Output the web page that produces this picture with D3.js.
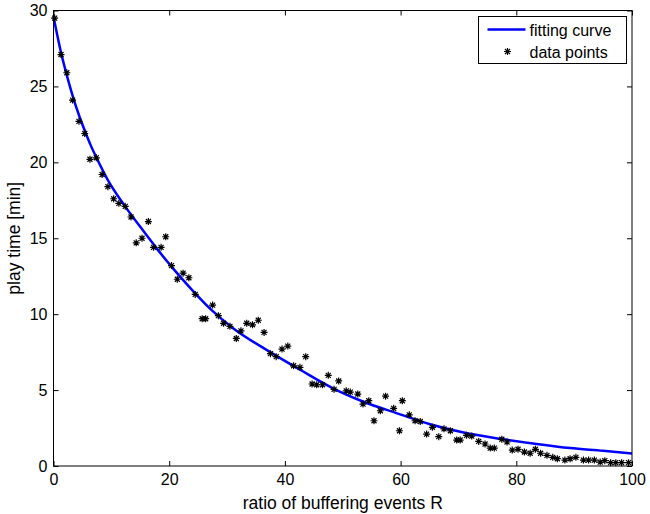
<!DOCTYPE html>
<html>
<head>
<meta charset="utf-8">
<script src="https://cdn.jsdelivr.net/npm/d3@7"></script>
<style>
  body { margin: 0; background: #fff; }
  svg text { font-family: "Liberation Sans", Arial, Helvetica, sans-serif; font-size: 16px; fill: #000; }
</style>
</head>
<body>
<svg id="chart" width="650" height="514"></svg>
<script>
// data points (R, play time)
const pointR = [0.2, 1.3, 2.3, 3.3, 4.4, 5.4, 6.3, 7.4, 8.4, 9.4, 10.4, 11.3, 12.4, 13.4, 14.3, 15.3, 16.4, 17.3, 18.6, 19.4,
  20.4, 21.4, 22.4, 23.4, 24.5, 25.7, 26.3, 27.5, 28.5, 29.4, 30.5, 31.6, 32.4, 33.4, 34.4, 35.4, 36.4, 37.5, 38.5, 39.5,
  40.5, 41.5, 42.6, 43.6, 44.7, 45.5, 46.5, 47.5, 48.5, 49.3, 50.6, 51.3, 52.6, 53.5, 54.5, 55.4, 56.5, 57.4, 58.8, 59.8,
  60.3, 61.5, 62.5, 63.4, 64.5, 65.5, 66.6, 67.5, 68.6, 69.7, 70.3, 71.4, 72.3, 73.5, 74.6, 75.5, 76.2, 77.5, 78.4, 79.3,
  80.3, 81.4, 82.4, 83.3, 84.2, 85.3, 86.3, 87.1, 88.4, 89.3, 90.3, 91.6, 92.5, 93.5, 94.5, 95.3, 96.3, 97.2, 98.2, 99.4];
const pointT = [29.5, 27.1, 25.9, 24.1, 22.7, 21.9, 20.2, 20.3, 19.2, 18.4, 17.6, 17.3, 17.1, 16.4, 14.7, 15.0, 16.1, 14.4, 14.4, 15.1,
  13.2, 12.3, 12.7, 12.4, 11.3, 9.7, 9.7, 10.6, 9.9, 9.4, 9.2, 8.4, 8.9, 9.4, 9.3, 9.6, 8.8, 7.4, 7.2, 7.7,
  7.9, 6.6, 6.5, 7.2, 5.4, 5.35, 5.35, 5.97, 5.05, 5.6, 4.95, 4.87, 4.74, 4.08, 4.3, 2.98, 3.64, 4.6, 3.8, 2.32,
  4.3, 3.37, 2.98, 2.93, 2.1, 2.55, 1.93, 2.45, 2.32, 1.71, 1.71, 2.02, 1.97, 1.62, 1.45, 1.18, 1.18, 1.76, 1.58, 1.05,
  1.1, 0.92, 0.84, 1.1, 0.84, 0.7, 0.57, 0.48, 0.39, 0.48, 0.57, 0.39, 0.39, 0.39, 0.26, 0.35, 0.22, 0.22, 0.22, 0.22];

// fitting curve
const curveR = [0, 1.2, 2.4, 3.3, 4.5, 5.6, 6.4, 7.5, 9.3, 12.1, 15, 17.9, 20.8, 23.7, 27.1, 31.1, 36.9, 42.7, 48.4,
  53.6, 59.4, 65.1, 70.9, 77.8, 83.5, 89.3, 95, 100];
const curveT = [29.6, 27.4, 25.6, 24.4, 23.0, 21.9, 21.15, 20.25, 18.9, 17.25, 15.75, 14.3, 12.95, 11.7, 10.35, 9.06, 7.63, 6.32, 5.1,
  4.23, 3.47, 2.75, 2.2, 1.76, 1.45, 1.18, 1.0, 0.82];

const xTicks = [0, 20, 40, 60, 80, 100];
const yTicks = [0, 5, 10, 15, 20, 25, 30];
const legendLabels = ["fitting curve", "data points"];

const svg = d3.select("#chart");
const margin = { left: 53.5, right: 18, top: 10.5, bottom: 48 };
const W = 650, H = 514;

const x = d3.scaleLinear().domain([0, 100]).range([margin.left, W - margin.right]);
const y = d3.scaleLinear().domain([0, 30]).range([H - margin.bottom, margin.top]);

// axes, matlab style: ticks inside, on all four sides
const tickLen = 5;
svg.append("g")
  .attr("transform", `translate(0,${y(0)})`)
  .call(d3.axisBottom(x).tickValues(xTicks).tickSizeInner(-tickLen).tickSizeOuter(0).tickPadding(8))
  .call(g => g.select(".domain").remove());
svg.append("g")
  .attr("transform", `translate(0,${y(30)})`)
  .call(d3.axisTop(x).tickValues(xTicks).tickSizeInner(-tickLen).tickSizeOuter(0).tickFormat(""))
  .call(g => g.select(".domain").remove());
svg.append("g")
  .attr("transform", `translate(${x(0)},0)`)
  .call(d3.axisLeft(y).tickValues(yTicks).tickSizeInner(-tickLen).tickSizeOuter(0).tickPadding(6))
  .call(g => g.select(".domain").remove());
svg.append("g")
  .attr("transform", `translate(${x(100)},0)`)
  .call(d3.axisRight(y).tickValues(yTicks).tickSizeInner(-tickLen).tickSizeOuter(0).tickFormat(""))
  .call(g => g.select(".domain").remove());

svg.selectAll(".tick text")
  .style("font-family", "'Liberation Sans', Arial, sans-serif")
  .style("font-size", "16px");
svg.selectAll(".tick line").attr("stroke", "#000");

// fitting curve
const line = d3.line()
  .x((d, i) => x(curveR[i]))
  .y(d => y(d))
  .curve(d3.curveMonotoneX);

svg.append("path")
  .datum(curveT)
  .attr("d", line)
  .attr("fill", "none")
  .attr("stroke", "#0000ff")
  .attr("stroke-width", 2.5);

// asterisk marker
const star = "M-3.5,0H3.5M0,-3.5V3.5M-2.5,-2.5L2.5,2.5M-2.5,2.5L2.5,-2.5";
svg.append("g").selectAll("path")
  .data(pointT)
  .enter()
  .append("path")
  .attr("d", star)
  .attr("transform", (d, i) => `translate(${x(pointR[i])},${y(d)})`)
  .attr("stroke", "#000")
  .attr("stroke-width", 1.2)
  .attr("fill", "none");

// frame
svg.append("rect")
  .attr("x", x(0)).attr("y", y(30))
  .attr("width", x(100) - x(0)).attr("height", y(0) - y(30))
  .attr("fill", "none").attr("stroke", "#000").attr("stroke-width", 1);

// axis labels
svg.append("text")
  .attr("x", (x(0) + x(100)) / 2).attr("y", 509)
  .attr("text-anchor", "middle")
  .style("font-size", "17.5px")
  .text("ratio of buffering events R");
svg.append("text")
  .attr("transform", `translate(20,${(y(0) + y(30)) / 2}) rotate(-90)`)
  .attr("text-anchor", "middle")
  .style("font-size", "17.5px")
  .text("play time [min]");

// legend
const lg = svg.append("g").attr("transform", "translate(478.5,16.5)");
lg.append("rect")
  .attr("width", 148).attr("height", 47)
  .attr("fill", "#fff").attr("stroke", "#000");
lg.append("line")
  .attr("x1", 9).attr("x2", 47).attr("y1", 13).attr("y2", 13)
  .attr("stroke", "#0000ff").attr("stroke-width", 2.5);
lg.append("path")
  .attr("d", star)
  .attr("transform", "translate(29,35)")
  .attr("stroke", "#000").attr("stroke-width", 1.2).attr("fill", "none");
lg.selectAll("text.lbl")
  .data(legendLabels)
  .enter()
  .append("text")
  .attr("class", "lbl")
  .attr("x", 51)
  .attr("y", (d, i) => 19 + i * 22)
  .text(d => d);
</script>
</body>
</html>
